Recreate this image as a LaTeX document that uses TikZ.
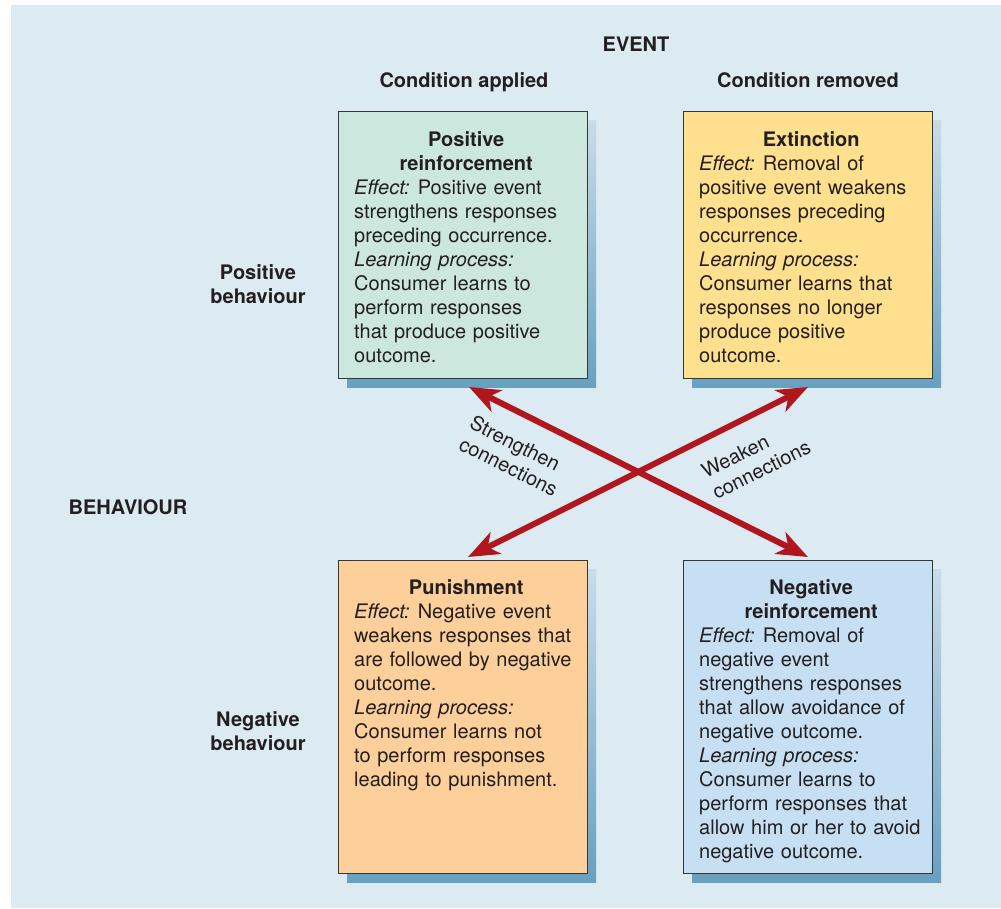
\documentclass[tikz,border=0pt]{standalone}
\usepackage{fontspec}
\setmainfont{TeX Gyre Heros}
\usetikzlibrary{arrows.meta,calc}
\definecolor{bgc}{RGB}{220,234,242}
\definecolor{ink}{RGB}{35,31,32}
\definecolor{edge}{RGB}{55,55,55}
\definecolor{fillA}{RGB}{204,231,221}
\definecolor{fillB}{RGB}{255,224,142}
\definecolor{fillC}{RGB}{253,208,155}
\definecolor{fillD}{RGB}{198,223,243}
\definecolor{shtop}{RGB}{200,220,233}
\definecolor{shbot}{RGB}{104,160,192}
\definecolor{arrowred}{RGB}{176,22,30}
\newcommand{\lbl}[1]{{\itshape #1}}
\tikzset{
  base/.style={font=\fontsize{20}{24}\selectfont, text=ink, inner sep=0pt},
  hdr/.style={base, font=\fontsize{20}{24}\selectfont\bfseries, align=center},
  cell/.style={draw=edge, line width=1.3pt, minimum width=249pt, anchor=north west, inner sep=0pt},
  shade/.style={top color=shtop, bottom color=shbot, draw=none},
  body/.style={base, text width=224pt, anchor=north west},
  tipx/.tip={Stealth[length=31pt,width=24pt,inset=9pt]},
  conn/.style={draw=arrowred, line width=6pt, tipx-tipx},
  lab/.style={base, align=left},
}
\begin{document}
\begin{tikzpicture}[x=1pt,y=-1pt]
\useasboundingbox (0,0) rectangle (1001,908);
\fill[white] (0,0) rectangle (1001,908);
\fill[bgc] (11,5) rectangle (1001,908);

% boxes (positions only)
\coordinate (pA) at (338,111);
\coordinate (pB) at (683,111);
\coordinate (pC) at (338,560);
\coordinate (pD) at (683,560);

% shadows
\foreach \p/\h in {pA/267,pB/267,pC/313,pD/313}{
  \fill[shade] ([xshift=9pt,yshift=-9pt]\p) rectangle ($(\p)+(258,\h+9)$);
}

\node[cell, fill=fillA, minimum height=267pt] (pr) at (pA) {};
\node[cell, fill=fillB, minimum height=267pt] (ex) at (pB) {};
\node[cell, fill=fillC, minimum height=313pt] (pu) at (pC) {};
\node[cell, fill=fillD, minimum height=313pt] (nr) at (pD) {};

\node[body] (prt) at ([xshift=16pt,yshift=-20pt]pr.north west) {%
{\centering\bfseries Positive\\reinforcement\par}\raggedright
\lbl{Effect:}\kern-2pt{} Positive event\\
strengthens responses\\
preceding occurrence.\\
\lbl{Learning process:}\\
Consumer learns to\\
perform responses\\
that produce positive\\
outcome.};

\node[body] (ext) at ([xshift=16pt,yshift=-20pt]ex.north west) {%
{\centering\bfseries Extinction\par}\raggedright
\lbl{Effect:}\kern-2pt{} Removal of\\
positive event weakens\\
responses preceding\\
occurrence.\\
\lbl{Learning process:}\\
Consumer learns that\\
responses no longer\\
produce positive\\
outcome.};

\node[body] (put) at ([xshift=16pt,yshift=-19pt]pu.north west) {%
{\centering\bfseries Punishment\par}\raggedright
\lbl{Effect:}\kern-2pt{} Negative event\\
weakens responses that\\
are followed by negative\\
outcome.\\
\lbl{Learning process:}\\
Consumer learns not\\
to perform responses\\
leading to punishment.};

\node[body] (nrt) at ([xshift=16pt,yshift=-19pt]nr.north west) {%
{\centering\bfseries Negative\\reinforcement\par}\raggedright
\lbl{Effect:}\kern-2pt{} Removal of\\
negative event\\
strengthens responses\\
that allow avoidance of\\
negative outcome.\\
\lbl{Learning process:}\\
Consumer learns to\\
perform responses that\\
allow him or her to avoid\\
negative outcome.};

% headers
\node[hdr, anchor=base] (ev) at (636,51) {EVENT};
\node[hdr, anchor=base] (ca) at (464,87) {Condition applied};
\node[hdr, anchor=base] (cr) at (808,87) {Condition removed};
\node[hdr, anchor=base] (bh) at (128,514) {BEHAVIOUR};
\node[hdr] (pb) at (258,284) {Positive\\behaviour};
\node[hdr] (nb) at (258,731) {Negative\\behaviour};

% connectors
\coordinate (a1s) at (469,387);
\coordinate (a1e) at (808,557);
\coordinate (a2s) at (468,557);
\coordinate (a2e) at (808,387);
\draw[conn] (a1s) -- (a1e);
\draw[conn] (a2s) -- (a2e);

\node[lab, rotate=-26.57] (sc) at (514,456) {Strengthen\\connections};
\node[lab, rotate=26.57] (wc) at (756,459) {Weaken\\connections};
\end{tikzpicture}
\end{document}
